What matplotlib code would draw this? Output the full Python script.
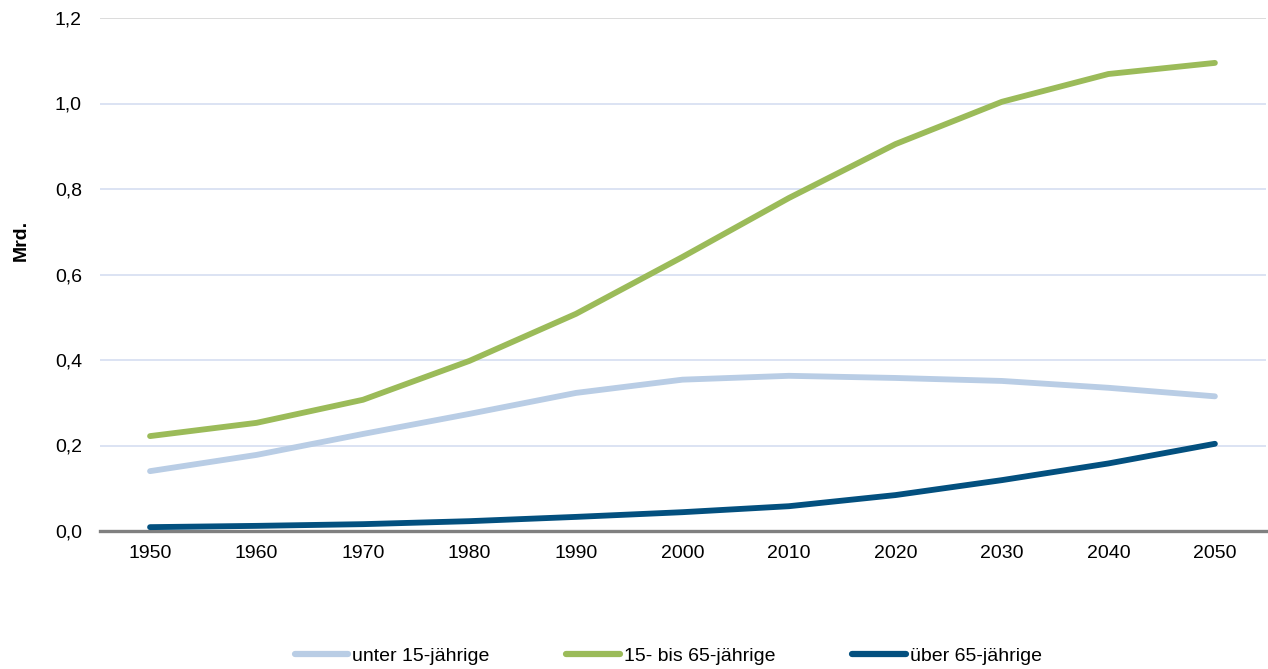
import matplotlib
matplotlib.use("Agg")
import matplotlib.pyplot as plt
from matplotlib.ticker import FuncFormatter

plt.rcParams['font.family'] = ['Liberation Sans', 'DejaVu Sans']

years = [1950, 1960, 1970, 1980, 1990, 2000, 2010, 2020, 2030, 2040, 2050]
unter_15 = [0.140, 0.178, 0.227, 0.274, 0.323, 0.354, 0.363, 0.358, 0.351, 0.335, 0.315]
von_15_bis_65 = [0.222, 0.253, 0.307, 0.398, 0.508, 0.641, 0.779, 0.905, 1.004, 1.069, 1.095]
ueber_65 = [0.009, 0.012, 0.016, 0.023, 0.033, 0.044, 0.058, 0.084, 0.119, 0.158, 0.204]
labels = ["unter 15-jährige", "15- bis 65-jährige", "über 65-jährige"]
colors = ["#B9CDE5", "#9BBB59", "#03507F"]
y_ticks = [0.0, 0.2, 0.4, 0.6, 0.8, 1.0, 1.2]

fig = plt.figure(figsize=(12.68, 6.69), dpi=100)
ax = fig.add_axes([100 / 1268, 1 - 531 / 669, 1166 / 1268, 513 / 669])

for yt in y_ticks[1:]:
    ax.axhline(yt, color="#D9D9D9" if yt == 1.2 else "#D9E1F2", lw=1.3, zorder=1)
ax.axhline(0, color="#808080", lw=2.4, zorder=2, clip_on=False)

handles = []
for vals, lab, col in zip([unter_15, von_15_bis_65, ueber_65], labels, colors):
    h, = ax.plot(years, vals, color=col, lw=4.2, solid_capstyle="round",
                 solid_joinstyle="round", label=lab, zorder=3)
    handles.append(h)

ax.set_xlim(1945.3, 2054.8)
ax.set_ylim(0, 1.2)
ax.set_xticks(years)
ax.set_yticks(y_ticks)
ax.yaxis.set_major_formatter(FuncFormatter(lambda v, p: f"{v:.1f}".replace(".", ",")))
ax.tick_params(length=0, labelsize=14, colors="black")
ax.tick_params(axis="y", pad=13)
ax.tick_params(axis="x", pad=10)
for s in ax.spines.values():
    s.set_visible(False)

fig.text(21 / 1268, 1 - 240 / 669, "Mrd.", rotation=90, fontsize=14,
         fontweight="bold", ha="center", va="center")

leg = fig.legend(handles=handles, labels=labels, loc="center", ncol=3,
                 bbox_to_anchor=(0.527, 1 - 656 / 669), frameon=False, fontsize=14,
                 handlelength=2.75, handletextpad=0.2, columnspacing=3.95)
for lh in leg.get_lines():
    lh.set_linewidth(4.5)

fig.savefig("out.png", dpi=100)
